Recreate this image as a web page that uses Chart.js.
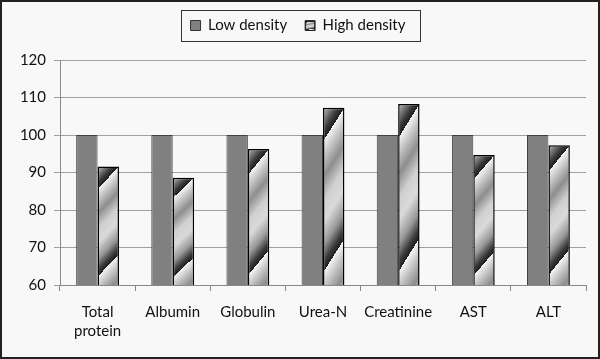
<!DOCTYPE html>
<html>
<head>
<meta charset="utf-8">
<script src="https://cdn.jsdelivr.net/npm/chart.js@4.4.1/dist/chart.umd.min.js"></script>
<style>
  html, body { margin: 0; padding: 0; background: #f8f8f8; }
  canvas { display: block; }
</style>
</head>
<body>
<canvas id="densityChart" width="600" height="359"></canvas>
<script>
const categories = [['Total', 'protein'], 'Albumin', 'Globulin', 'Urea-N', 'Creatinine', 'AST', 'ALT'];
const lowDensity = [100, 100, 100, 100, 100, 100, 100];
const highDensity = [91.6, 88.6, 96.3, 107.3, 108.3, 94.7, 97.3];
const yTicks = { min: 60, max: 120, step: 10 };

const FONT = 'Lato, "Open Sans", sans-serif';
const CAT_PCT = 0.57;

// one period of the diagonal chrome stripe, from the sharp light edge to black
const stripeProfile = [
    [0.00, '#f4f4f4'],
    [0.12, '#c6c6c6'],
    [0.28, '#8e8e8e'],
    [0.46, '#d0d0d0'],
    [0.62, '#dadada'],
    [0.80, '#989898'],
    [0.93, '#3a3a3a'],
    [1.00, '#1e1e1e']
];

// Gradient laid over one bar box: edge drops 19% of the height across the bar,
// and repeats every 74% of the height down the left side.
function chromeFill(c, xl, xr, yt, yb) {
    const w = Math.max(xr - xl, 1), h = Math.max(yb - yt, 1);
    const drop = 0.19 * h, period = 0.74 * h;
    const k = period * w / (drop * drop + w * w);
    const gx = k * drop, gy = k * w;
    const g = c.createLinearGradient(xl - gx, yt + drop - gy, xl + 2 * gx, yt + drop + 2 * gy);
    for (let i = 0; i < 3; i++) {
        stripeProfile.forEach(([f, col]) => g.addColorStop((i + f) / 3, col));
    }
    return g;
}

const frame = {
    id: 'frame',
    beforeLayout(chart) {
        const lg = chart.legend;
        if (lg && !lg._tall) {
            const fit = lg.fit.bind(lg);
            lg.fit = function () { fit(); this.height = 60; };
            lg._tall = true;
        }
    },
    beforeDraw(chart) {
        const c = chart.ctx;
        c.save();
        c.fillStyle = '#f8f8f8';
        c.fillRect(0, 0, chart.width, chart.height);
        c.restore();
    },
    afterDraw(chart) {
        const c = chart.ctx;
        c.save();
        c.strokeStyle = '#222';
        c.lineWidth = 2;
        c.strokeRect(1, 1, chart.width - 2, chart.height - 2);
        const boxes = chart.legend.legendHitBoxes;
        if (boxes && boxes.length) {
            // stripe swatch for the second entry
            const b = boxes[1];
            const bw = 10, by = Math.round(b.top + (b.height - bw) / 2);
            c.fillStyle = chromeFill(c, b.left, b.left + bw, by, by + bw);
            c.fillRect(b.left, by, bw, bw);
            c.lineWidth = 1;
            c.strokeStyle = '#222';
            c.strokeRect(b.left + 0.5, by + 0.5, bw - 1, bw - 1);
            // frame round the legend
            const l = Math.min(...boxes.map(x => x.left)) - 10;
            const r = Math.max(...boxes.map(x => x.left + x.width)) + 14;
            const t = boxes[0].top - 8;
            const h = boxes[0].height + 16;
            c.strokeStyle = '#333';
            c.strokeRect(Math.round(l) + 0.5, Math.round(t) + 0.5, Math.round(r - l), Math.round(h));
        }
        c.restore();
    }
};

new Chart(document.getElementById('densityChart'), {
    type: 'bar',
    data: {
        labels: categories,
        datasets: [
            {
                label: 'Low density',
                data: lowDensity,
                backgroundColor: '#808080',
                borderColor: '#404040',
                borderWidth: 1,
                borderSkipped: false
            },
            {
                label: 'High density',
                data: highDensity,
                backgroundColor(ctx) {
                    const chart = ctx.chart, area = chart.chartArea;
                    if (ctx.type !== 'data' || !area || !chart.scales.x) return '#bbb';
                    const cx = chart.scales.x.getPixelForValue(ctx.dataIndex);
                    const bw = area.width / categories.length * CAT_PCT / 2;
                    const top = chart.scales.y.getPixelForValue(ctx.raw);
                    return chromeFill(chart.ctx, cx, cx + bw, top, area.bottom);
                },
                borderColor: '#000',
                borderWidth: 1.5,
                borderSkipped: false
            }
        ]
    },
    options: {
        responsive: false,
        animation: false,
        devicePixelRatio: 1,
        categoryPercentage: CAT_PCT,
        barPercentage: 1.0,
        layout: { padding: { left: 10, right: 14, top: 0, bottom: 8 } },
        plugins: {
            legend: {
                position: 'top',
                labels: {
                    color: '#111',
                    font: { family: FONT, size: 15 },
                    boxWidth: 10,
                    boxHeight: 10,
                    padding: 18,
                    generateLabels(chart) {
                        const items = Chart.defaults.plugins.legend.labels.generateLabels(chart);
                        items[1].fillStyle = '#bbb';
                        items.forEach(i => { i.lineWidth = 1; i.strokeStyle = '#333'; });
                        return items;
                    }
                }
            },
            tooltip: { enabled: false }
        },
        scales: {
            x: {
                grid: { drawOnChartArea: false, drawTicks: true, tickLength: 6, color: '#888', offset: true },
                border: { color: '#888' },
                ticks: { color: '#111', font: { family: FONT, size: 15, lineHeight: 1.3 }, maxRotation: 0, autoSkip: false, padding: 11 },
                afterFit(scale) { scale.height = 66; }
            },
            y: {
                min: yTicks.min,
                max: yTicks.max,
                grid: { color: '#a0a0a0', tickLength: 6 },
                border: { color: '#888' },
                ticks: { stepSize: yTicks.step, color: '#111', font: { family: FONT, size: 15 }, padding: 8 },
                afterFit(scale) { scale.width = 50; }
            }
        }
    },
    plugins: [frame]
});
</script>
</body>
</html>
